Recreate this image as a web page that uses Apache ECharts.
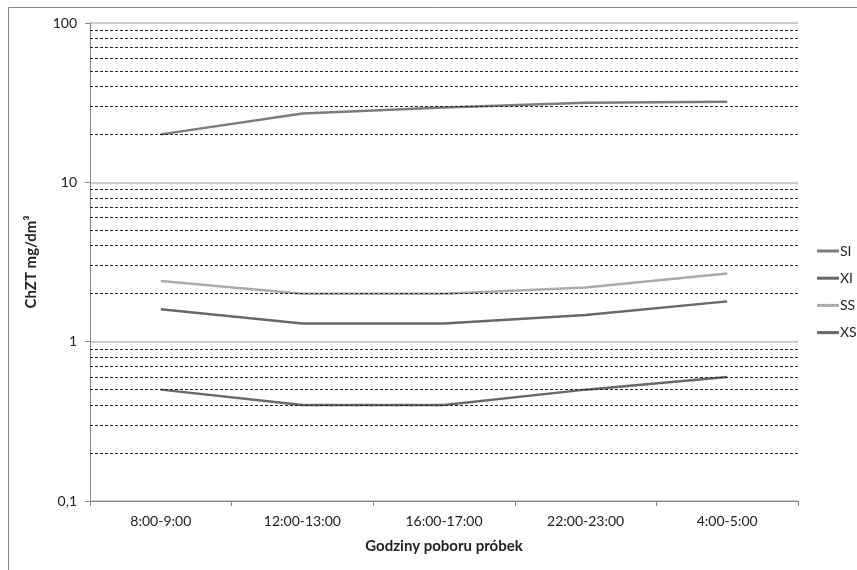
<!DOCTYPE html>
<html>
<head>
<meta charset="utf-8">
<script src="https://cdn.jsdelivr.net/npm/echarts@6/dist/echarts.min.js"></script>
<style>html,body{margin:0;padding:0;background:#fff;}#c{width:857px;height:570px;}</style>
</head>
<body>
<div id="c"></div>
<script>
const categories = ['8:00-9:00', '12:00-13:00', '16:00-17:00', '22:00-23:00', '4:00-5:00'];
const SI = [20, 27, 29.5, 31.6, 32];
const XI = [1.6, 1.3, 1.3, 1.47, 1.79];
const SS = [2.4, 2.0, 2.0, 2.19, 2.68];
const XS = [0.5, 0.4, 0.4, 0.5, 0.6];
const minorGrid = [0.2,0.3,0.4,0.5,0.6,0.7,0.8,0.9, 2,3,4,5,6,7,8,9, 20,30,40,50,60,70,80,90];
const yTitle = 'ChZT mg/dm³';
const xTitle = 'Godziny poboru próbek';

const font = 'Lato, "Open Sans", sans-serif';
const chart = echarts.init(document.getElementById('c'));
const mk = (name, data, color) => ({
  name, type: 'line', data, symbol: 'none', z: 3,
  lineStyle: { color, width: 2.5 }, itemStyle: { color }
});
chart.setOption({
  animation: false,
  graphic: [{ type: 'rect', shape: { x: 8.5, y: 7.5, width: 900, height: 700 },
    style: { fill: 'none', stroke: '#888', lineWidth: 1 }, silent: true }],
  grid: { left: 90, right: 59, top: 23, bottom: 69 },
  legend: {
    data: ['SI', 'XI', 'SS', 'XS'], orient: 'vertical', left: 812, top: 239,
    icon: 'rect', itemWidth: 22, itemHeight: 3, itemGap: 13.2,
    textStyle: { fontFamily: font, fontSize: 14, color: '#222', padding: [0,0,0,-4] }
  },
  xAxis: {
    type: 'category', data: categories, boundaryGap: true,
    name: xTitle, nameLocation: 'middle', nameGap: 38,
    nameTextStyle: { fontFamily: font, fontSize: 15, fontWeight: 'bold', color: '#222' },
    axisLine: { lineStyle: { color: '#888' } },
    axisTick: { show: true, length: 5, lineStyle: { color: '#888' } },
    axisLabel: { fontFamily: font, fontSize: 14, color: '#222', margin: 13 }
  },
  yAxis: {
    type: 'log', logBase: 10, min: 0.1, max: 100,
    name: yTitle, nameLocation: 'middle', nameGap: 51,
    nameTextStyle: { fontFamily: font, fontSize: 15, fontWeight: 'bold', color: '#222' },
    axisLine: { show: true, lineStyle: { color: '#888' } },
    axisTick: { show: true, length: 5, lineStyle: { color: '#888' } },
    axisLabel: { fontFamily: font, fontSize: 14, color: '#222', margin: 13,
      formatter: v => String(v).replace('.', ',') },
    splitLine: { show: true, lineStyle: { color: '#bbb', width: 1.5 } }
  },
  series: [
    { name: 'grid', type: 'line', data: [], z: 1, silent: true,
      markLine: { silent: true, symbol: 'none', label: { show: false },
        lineStyle: { color: '#222', type: [3, 2], width: 1 },
        data: minorGrid.map(v => ({ yAxis: v })) } },
    mk('SI', SI, '#7c7c7c'),
    mk('XI', XI, '#686868'),
    mk('SS', SS, '#ababab'),
    mk('XS', XS, '#686868')
  ]
});
</script>
</body>
</html>
